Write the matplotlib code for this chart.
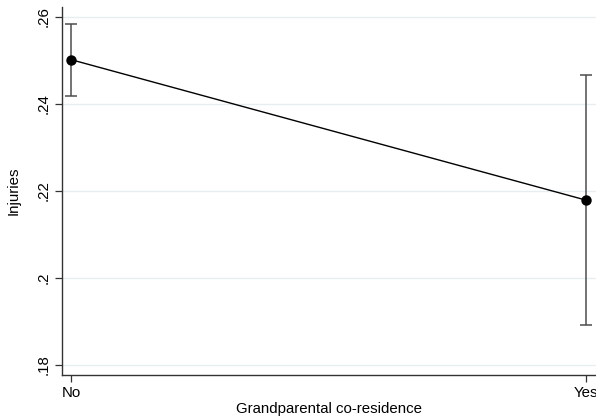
import matplotlib
matplotlib.use("Agg")
import matplotlib.pyplot as plt

plt.rcParams['font.family'] = ['Liberation Sans', 'DejaVu Sans']

categories = ["No", "Yes"]
means = [0.2502, 0.2179]
ci_low = [0.2419, 0.1892]
ci_high = [0.2585, 0.2467]
yticks = [0.18, 0.20, 0.22, 0.24, 0.26]
ytick_labels = [".18", ".2", ".22", ".24", ".26"]

fig = plt.figure(figsize=(5.96, 4.19), dpi=100)
ax = fig.add_axes([62/596, 44/419, (596-62)/596, 368/419])

x = list(range(len(categories)))
yerr = [[m - l for m, l in zip(means, ci_low)], [h - m for m, h in zip(means, ci_high)]]
ax.errorbar(x, means, yerr=yerr, fmt='none', ecolor='#4d4d4d', elinewidth=1.1,
            capsize=4, capthick=1.1, zorder=2)
ax.plot(x, means, color='black', lw=1.0, marker='o', markersize=6.5,
        markerfacecolor='black', markeredgecolor='black', zorder=3)

ax.set_xlim(-0.0175, 1.0194)
ax.set_ylim(0.1777, 0.2623)
ax.set_xticks(x)
ax.set_xticklabels(categories, fontsize=10.8)
ax.set_yticks(yticks)
ax.set_yticklabels(ytick_labels, fontsize=10.8, rotation=90, va='center')
ax.grid(axis='y', color='#e6eef0', lw=1.0, zorder=0)
ax.set_axisbelow(True)
for s in ['top', 'right']:
    ax.spines[s].set_visible(False)
for s in ['left', 'bottom']:
    ax.spines[s].set_color('#333333')
    ax.spines[s].set_linewidth(1.0)
ax.tick_params(axis='both', direction='out', length=5, width=0.9, color='#333333', pad=3)
ax.set_xlabel("Grandparental co-residence", fontsize=10.8, labelpad=1)
ax.set_ylabel("Injuries", fontsize=10.8, labelpad=12)

fig.savefig("out.png", dpi=100)
